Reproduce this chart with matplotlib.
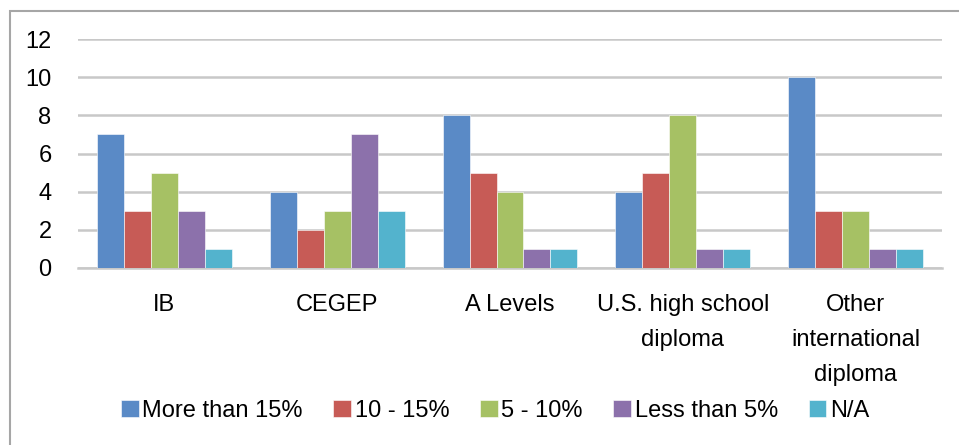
import matplotlib.pyplot as plt
import numpy as np
from matplotlib.patches import Rectangle

categories = ["IB", "CEGEP", "A Levels", "U.S. high school\ndiploma",
              "Other\ninternational\ndiploma"]
series_names = ["More than 15%", "10 - 15%", "5 - 10%", "Less than 5%", "N/A"]
more_than_15 = [7, 4, 8, 4, 10]
pct_10_15 = [3, 2, 5, 5, 3]
pct_5_10 = [5, 3, 4, 8, 3]
less_than_5 = [3, 7, 1, 1, 1]
not_avail = [1, 3, 1, 1, 1]
colors = ["#5A8AC6", "#C75B56", "#A6C164", "#8C71AB", "#53B3CD"]

plt.rcParams['font.family'] = ['Liberation Sans', 'DejaVu Sans']

W, H = 959, 445
fig = plt.figure(figsize=(W / 100, H / 100), dpi=100)

# chart border (light grey frame, right/bottom edges run off the picture)
fig.add_artist(Rectangle((10 / W, -0.05), 1.1, 1 - 11 / H + 0.05,
                         transform=fig.transFigure, fill=False,
                         edgecolor="#A6A6A6", linewidth=1.5))

ax = fig.add_axes([78 / W, 1 - 268 / H, (942 - 78) / W, (268 - 39) / H])

series = [more_than_15, pct_10_15, pct_5_10, less_than_5, not_avail]
x = np.arange(len(categories))
bw = 0.156
for i, (vals, name, c) in enumerate(zip(series, series_names, colors)):
    ax.bar(x + (i - 2) * bw, vals, width=bw, color=c, label=name,
           edgecolor="white", linewidth=0.4, zorder=3)

ax.set_xlim(-0.5, len(categories) - 0.5)
ax.set_ylim(0, 12)
ax.set_yticks(range(0, 13, 2))
ax.yaxis.grid(True, color="#C8C8C8", linewidth=1.8, zorder=0)
ax.set_axisbelow(True)
for s in ["left", "right", "top"]:
    ax.spines[s].set_visible(False)
ax.spines["bottom"].set_color("#C8C8C8")
ax.spines["bottom"].set_linewidth(1.8)
ax.tick_params(axis="both", length=0, labelsize=17)
ax.tick_params(axis="y", pad=19)
ax.tick_params(axis="x", pad=19)
ax.set_xticks(x)
ax.set_xticklabels(categories, linespacing=1.75)

ax.legend(loc="center", bbox_to_anchor=(495 / W, 1 - 411 / H),
          bbox_transform=fig.transFigure, ncol=5, frameon=False,
          fontsize=17, handlelength=0.75, handleheight=0.75,
          handletextpad=0.15, columnspacing=1.3)

fig.savefig("out.png", dpi=100)
